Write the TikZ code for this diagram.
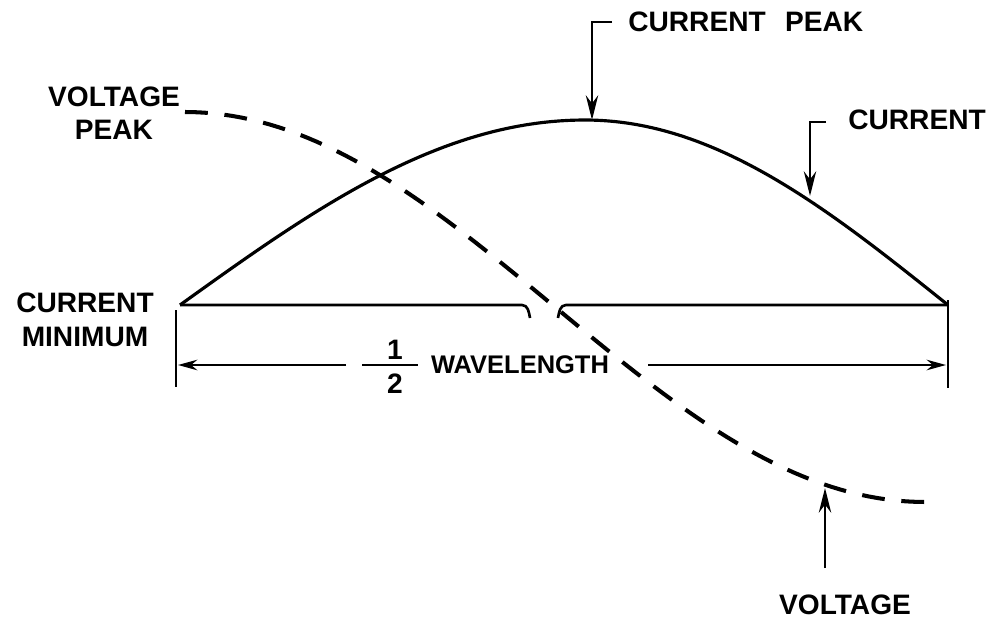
\documentclass[tikz,border=0pt]{standalone}
\usepackage{fontspec}
\setmainfont{Liberation Sans}
\usetikzlibrary{arrows.meta}

\begin{document}
\begin{tikzpicture}[
  x=0.02cm, y=-0.02cm, >={Stealth[length=14pt,width=7pt]},
  lbl/.style={font=\bfseries\fontsize{16pt}{19pt}\selectfont, inner sep=0pt, align=center},
  wave/.style={line width=1.8pt, line join=round},
  volt/.style={line width=2.3pt, dash pattern=on 13pt off 9.5pt},
  base/.style={line width=1.5pt},
  dim/.style={line width=1.3pt, -{Stealth[length=11pt,width=6pt]}},
  lead/.style={line width=1.6pt, ->}
]
\useasboundingbox (0,0) rectangle (992,619);

% labels
\node[lbl] (vpeak) at (114,113) {VOLTAGE\\PEAK};
\node[lbl] (cmin) at (85,320) {CURRENT\\MINIMUM};
\node[lbl, anchor=west] (cpeak) at (628,22) {CURRENT\hspace{11pt}PEAK};
\node[lbl, anchor=west] (cur) at (848,120) {CURRENT};
\node[lbl] (volt) at (845,605) {VOLTAGE};
\node[lbl] (one) at (395,350) {1};
\node[lbl] (two) at (395,384) {2};
\node[lbl, font=\bfseries\fontsize{14.5pt}{17pt}\selectfont] (wl) at (520,365) {WAVELENGTH};

% points on the curves
\coordinate (c0) at (180,305);
\coordinate (c1) at (948,305);
\coordinate (pk) at (592,120);
\coordinate (cu) at (810,196);
\coordinate (vt) at (825,488);
\coordinate (pkt) at (612,22);
\coordinate (cut) at (826,122);
\coordinate (vtt) at (825,568);

% current
\draw[wave] plot[variable=\t, domain=0:90, samples=50] ({180+4.5*\t}, {305-185*sin(\t)})
  -- plot[variable=\t, domain=0:90, samples=50] ({585+4.0333*\t}, {305-185*cos(\t)});

% baseline with the break
\draw[base] (c0) -- (522,305) to[out=0, in=100] (530,318);
\draw[base] (558,318) to[out=80, in=180] (566,305) -- (c1);

% half wavelength
\draw[base] (176,310) -- (176,387);
\draw[base] (948,300) -- (948,388);
\draw[dim] (346,365) -- (178,365);
\draw[line width=1.3pt] (362,365) -- (418,365);
\draw[dim] (648,365) -- (946,365);

% voltage
\draw[volt] plot[variable=\t, domain=0:180, samples=80] ({185+4.1111*\t}, {307-195*cos(\t)});

% leaders
\draw[lead] (pkt) -| (pk);
\draw[lead] (cut) -| (cu);
\draw[lead] (vtt) -- (vt);
\end{tikzpicture}
\end{document}
